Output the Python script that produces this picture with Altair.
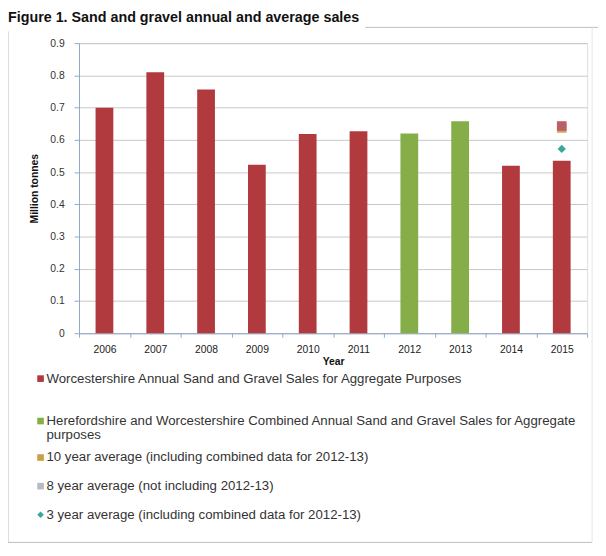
import altair as alt
import pandas as pd

years = ["2006", "2007", "2008", "2009", "2010", "2011", "2012", "2013", "2014", "2015"]
sales = [0.70, 0.81, 0.756, 0.523, 0.618, 0.627, 0.62, 0.658, 0.52, 0.535]
series_names = [
    "Worcestershire Annual Sand and Gravel Sales for Aggregate Purposes",
    "Herefordshire and Worcestershire Combined Annual Sand and Gravel Sales for Aggregate purposes",
]
series_of_year = [0, 0, 0, 0, 0, 0, 1, 1, 0, 0]
bar_colors = ["#B03A3D", "#86AE48"]

avg_labels = [
    "10 year average (including combined data for 2012-13)",
    "8 year average (not including 2012-13)",
    "3 year average (including combined data for 2012-13)",
]
avg_year = ["2015", "2015", "2015"]
avg_values = [0.637, 0.643, 0.572]
avg_colors = ["#D4A84A", "#B8616B", "#3AA79B"]
avg_shapes = ["square", "square", "diamond"]
avg_sizes = [95, 95, 70]

legend_lines = [
    "Worcestershire Annual Sand and Gravel Sales for Aggregate Purposes",
    "Herefordshire and Worcestershire Combined Annual Sand and Gravel Sales for Aggregate",
    "purposes",
    "10 year average (including combined data for 2012-13)",
    "8 year average (not including 2012-13)",
    "3 year average (including combined data for 2012-13)",
]
legend_marker_colors = ["#B03A3D", "#86AE48", None, "#C9A045", "#B9B9C4", "#3AA79B"]
legend_marker_shapes = ["square", "square", None, "square", "square", "diamond"]

W, H = 515, 294
FONT = "Liberation Sans"

bars_df = pd.DataFrame({
    "Year": years,
    "Sales": sales,
    "Series": [series_names[i] for i in series_of_year],
})
avg_df = pd.DataFrame({"Year": avg_year, "Sales": avg_values, "Label": avg_labels})

xscale = alt.Scale(domain=years, paddingInner=0.0, paddingOuter=0.0)
yscale = alt.Scale(domain=[0, 0.9], nice=False)

xaxis = alt.Axis(title="Year", labelAngle=0, tickBand="extent",
                 domainColor="#8EA9C8", tickColor="#8EA9C8", tickSize=4,
                 labelFont=FONT, labelFontSize=10.5, labelColor="#222",
                 labelPadding=8, titleFont=FONT, titleFontSize=10.5,
                 titleFontWeight="bold", titleColor="#111", titlePadding=1,
                 grid=False)
yaxis = alt.Axis(title="Million tonnes", values=[0, 0.1, 0.2, 0.3, 0.4, 0.5, 0.6, 0.7, 0.8, 0.9],
                 format="~g", grid=True, gridColor="#C8C8C8", labelOverlap=False,
                 domainColor="#8EA9C8", tickColor="#8EA9C8", tickSize=5,
                 labelFont=FONT, labelFontSize=10.5, labelColor="#333",
                 labelPadding=10, titleFont=FONT, titleFontSize=10.5,
                 titleFontWeight="bold", titleColor="#111", titlePadding=10)

bars = alt.Chart(bars_df).mark_bar(size=18).encode(
    x=alt.X("Year:N", scale=xscale, sort=years, axis=xaxis),
    y=alt.Y("Sales:Q", scale=yscale, axis=yaxis),
    color=alt.Color("Series:N", scale=alt.Scale(domain=series_names, range=bar_colors), legend=None),
)

pts = []
for i in range(len(avg_labels)):
    pts.append(alt.Chart(avg_df.iloc[[i]]).mark_point(
        filled=True, opacity=1, shape=avg_shapes[i], size=avg_sizes[i], color=avg_colors[i]).encode(
        x=alt.X("Year:N", scale=xscale, sort=years, axis=xaxis),
        y=alt.Y("Sales:Q", scale=yscale, axis=yaxis),
    ))

one = alt.Data(values=[{"a": 1}])

# legend (custom)
leg_y = [340, 383, 397, 420, 449, 478]
legend_layers = []
for i, txt in enumerate(legend_lines):
    legend_layers.append(alt.Chart(one).mark_text(align="left", baseline="middle", font=FONT,
                                                  fontSize=13.4, color="#333").encode(
        x=alt.value(-33), y=alt.value(leg_y[i]), text=alt.value(txt)))
    if legend_marker_colors[i] is not None:
        legend_layers.append(alt.Chart(one).mark_point(filled=True, opacity=1,
                                                       shape=legend_marker_shapes[i],
                                                       size=45, color=legend_marker_colors[i]).encode(
            x=alt.value(-39), y=alt.value(leg_y[i])))

title = alt.Chart(one).mark_text(align="left", baseline="middle", font=FONT, fontSize=14.5,
                                 fontWeight="bold", color="#111").encode(
    x=alt.value(-72), y=alt.value(-25), text=alt.value("Figure 1. Sand and gravel annual and average sales"))

frame_col = "#BDBDBD"
frame = [
    alt.Chart(one).mark_rule(color=frame_col, strokeWidth=1).encode(
        x=alt.value(290), x2=alt.value(526), y=alt.value(-16)),
    alt.Chart(one).mark_rule(color=frame_col, strokeWidth=1).encode(
        x=alt.value(-72), y=alt.value(-12), y2=alt.value(506)),
    alt.Chart(one).mark_rule(color=frame_col, strokeWidth=1).encode(
        x=alt.value(-72), x2=alt.value(520), y=alt.value(506)),
    alt.Chart(one).mark_rule(color="#E6E6E6", strokeWidth=1).encode(
        x=alt.value(520), y=alt.value(-16), y2=alt.value(506)),
]

chart = alt.layer(*frame, bars, *pts, *legend_layers, title).properties(
    width=W, height=H,
    autosize=alt.AutoSizeParams(type="none"),
    padding={"left": 72, "top": 32, "right": 11, "bottom": 212},
).configure_view(stroke=None).configure(background="white")

chart.save("out.html", embed_options={"renderer": "svg", "actions": False})
